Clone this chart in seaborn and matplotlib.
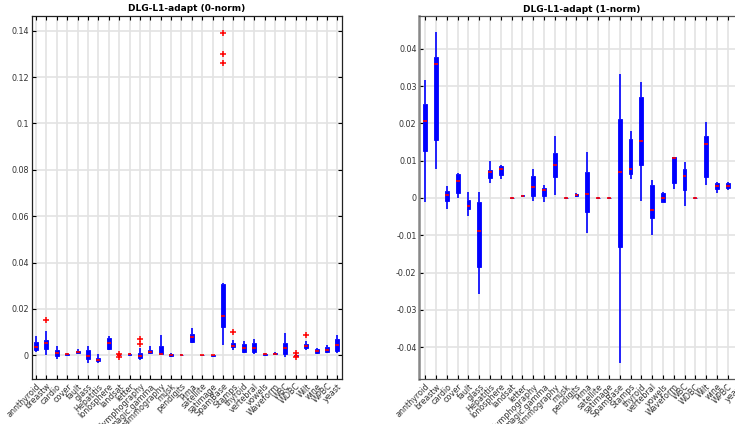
import numpy as np
import pandas as pd
import matplotlib
matplotlib.use('Agg')
import matplotlib.pyplot as plt
import seaborn as sns

datasets = ['annthyroid', 'breastw', 'cardio', 'cover', 'fault', 'glass', 'Hepatitis',
            'Ionosphere', 'landsat', 'letter', 'Lymphography', 'magic.gamma', 'mammography',
            'musk', 'pendigits', 'Pima', 'satellite', 'satimage', 'SpamBase', 'Stamps',
            'thyroid', 'vertebral', 'vowels', 'Waveform', 'WBC', 'WDBC', 'Wilt', 'wine',
            'WPBC', 'yeast']

# 0-norm: lower whisker, q1, median, q3, upper whisker
lo0 = [0.0016, 0.0002, -0.0014, 0.0000, 0.0010, -0.0031, -0.0034, 0.0021, -0.0002, 0.0000,
       -0.0019, 0.0005, 0.0002, -0.0003, 0.0000, 0.0055, 0.0001, -0.0002, 0.0045, 0.0025,
       0.0012, 0.0005, 0.0000, 0.0002, -0.0006, -0.0004, 0.0022, 0.0006, 0.0010, 0.0012]
q1_0 = [0.0021, 0.0027, -0.0001, 0.0003, 0.0012, -0.0016, -0.0025, 0.0027, 0.0000, 0.0003,
        -0.0010, 0.0009, 0.0005, -0.0001, 0.0001, 0.0058, 0.00015, -0.0001, 0.0122, 0.0035,
        0.0016, 0.0016, 0.0001, 0.0004, 0.0005, -0.0002, 0.0030, 0.0009, 0.0015, 0.0017]
med0 = [0.0036, 0.0053, 0.0011, 0.0005, 0.0016, -0.0004, -0.0021, 0.0052, 0.0001, 0.0005,
        -0.0002, 0.0016, 0.0006, 0.0002, 0.0002, 0.0080, 0.0002, 0.0001, 0.0169, 0.0042,
        0.0032, 0.0032, 0.0004, 0.0006, 0.0032, -0.0001, 0.0040, 0.0019, 0.0025, 0.0043]
q3_0 = [0.0057, 0.0067, 0.0024, 0.0008, 0.0019, 0.0021, -0.0011, 0.0074, 0.0002, 0.0007,
        0.0012, 0.0024, 0.0040, 0.0004, 0.0003, 0.0093, 0.00025, 0.0002, 0.0308, 0.0053,
        0.0048, 0.0053, 0.0007, 0.0010, 0.0053, 0.0002, 0.0050, 0.0027, 0.0034, 0.0071]
hi0 = [0.0084, 0.0107, 0.0041, 0.0010, 0.0026, 0.0041, 0.0005, 0.0084, 0.0004, 0.0010,
       0.0030, 0.0040, 0.0089, 0.0006, 0.0004, 0.0117, 0.0003, 0.0003, 0.0314, 0.0066,
       0.0062, 0.0071, 0.0010, 0.0014, 0.0098, 0.0004, 0.0060, 0.0032, 0.0044, 0.0087]
out0 = {'breastw': [0.0152], 'landsat': [0.0007, -0.0005], 'Lymphography': [0.0070, 0.0050],
        'musk': [0.0010, -0.0006], 'SpamBase': [0.1391, 0.1301, 0.1259], 'Stamps': [0.0100],
        'WDBC': [0.0009, -0.0009], 'Wilt': [0.0088]}

# 1-norm
lo1 = [-0.0010, 0.0079, -0.0030, 0.0000, -0.0047, -0.0258, 0.0041, 0.0052, -0.0002, 0.0004,
       -0.0009, -0.0010, 0.0008, -0.0002, 0.0002, -0.0093, -0.0002, -0.0002, -0.0441, 0.0052,
       -0.0007, -0.0099, -0.0012, 0.0023, -0.0022, -0.0002, 0.0035, 0.0013, 0.0021, 0.0015]
q1_1 = [0.0125, 0.0155, -0.0008, 0.0014, -0.0029, -0.0184, 0.0054, 0.0061, -0.0001, 0.0005,
        0.0005, 0.0005, 0.0055, -0.0001, 0.0006, -0.0037, -0.0001, -0.0001, -0.0132, 0.0065,
        0.0089, -0.0054, -0.0010, 0.0041, 0.0021, -0.0001, 0.0057, 0.0025, 0.0027, 0.0025]
med1 = [0.0207, 0.0359, 0.0008, 0.0046, -0.0021, -0.0088, 0.0069, 0.0079, 0.0000, 0.0006,
        0.0029, 0.0021, 0.0088, 0.0000, 0.0009, 0.0012, 0.0000, 0.0000, 0.0071, 0.0079,
        0.0154, -0.0031, -0.0001, 0.0106, 0.0058, 0.0000, 0.0146, 0.0033, 0.0033, 0.0032]
q3_1 = [0.0253, 0.0379, 0.0020, 0.0064, -0.0005, -0.0012, 0.0075, 0.0086, 0.0001, 0.0007,
        0.0059, 0.0026, 0.0121, 0.0001, 0.0012, 0.0070, 0.0001, 0.0001, 0.0213, 0.0157,
        0.0272, 0.0034, 0.0013, 0.0109, 0.0078, 0.0001, 0.0167, 0.0040, 0.0039, 0.0040]
hi1 = [0.0317, 0.0444, 0.0032, 0.0066, 0.0017, 0.0016, 0.0099, 0.0088, 0.0002, 0.0008,
       0.0079, 0.0035, 0.0167, 0.0002, 0.0014, 0.0123, 0.0002, 0.0002, 0.0333, 0.0180,
       0.0312, 0.0048, 0.0015, 0.0111, 0.0096, 0.0002, 0.0204, 0.0044, 0.0044, 0.0048]
out1 = {}


def long_table(lo, q1, med, q3, hi, outliers, k=10):
    # repeat the quartiles so the boxplot statistics land on the read values
    rows = []
    for i, name in enumerate(datasets):
        vals = [lo[i]] + [q1[i]] * k + [med[i]] * k + [q3[i]] * k + [hi[i]]
        vals += outliers.get(name, [])
        rows += [(name, v) for v in vals]
    return pd.DataFrame(rows, columns=['dataset', 'value'])


df0 = long_table(lo0, q1_0, med0, q3_0, hi0, out0)
df1 = long_table(lo1, q1_1, med1, q3_1, hi1, out1)

fig = plt.figure(figsize=(7.35, 4.24), dpi=100)
ax0 = fig.add_axes([0.0431, 0.1061, 0.4218, 0.857])
ax1 = fig.add_axes([0.5705, 0.1054, 0.4424, 0.857])

box_kw = dict(x='dataset', y='value', order=datasets, color='blue', linecolor='blue',
              saturation=1, whis=1.5, showcaps=False, linewidth=0.6,
              whiskerprops=dict(color='blue', linewidth=1.2),
              medianprops=dict(color='red', linewidth=1.2),
              flierprops=dict(marker='+', markeredgecolor='red', markersize=5,
                              markeredgewidth=1.1))

sns.boxplot(data=df0, ax=ax0, width=0.38, **box_kw)
sns.boxplot(data=df1, ax=ax1, width=0.36, **box_kw)

for ax, title, xlim, ylim, yt in [
        (ax0, 'DLG-L1-adapt (0-norm)', (-0.41, 29.41), (-0.0102, 0.1465),
         np.arange(0, 0.141, 0.02)),
        (ax1, 'DLG-L1-adapt (1-norm)', (-0.55, 29.55), (-0.0486, 0.0488),
         np.arange(-0.04, 0.041, 0.01))]:
    ax.set_xlim(*xlim)
    ax.set_ylim(*ylim)
    ax.set_yticks(yt)
    ax.set_yticklabels([f'{v:g}' if abs(v) > 1e-12 else '0' for v in yt])
    ax.set_xlabel('')
    ax.set_ylabel('')
    ax.set_title(title, fontsize=6.5, fontweight='bold', pad=3)
    ax.grid(True, color='#e3e3e3', linewidth=1.2)
    ax.set_axisbelow(True)
    ax.tick_params(direction='in', top=True, right=True, length=3, width=0.8,
                   labelsize=5.8, labelcolor='#333333', pad=2)
    plt.setp(ax.get_xticklabels(), rotation=45, ha='right', rotation_mode='anchor')

for s in ax0.spines.values():
    s.set_color('#222222')
    s.set_linewidth(0.9)
for s in ax1.spines.values():
    s.set_color('#555555')
    s.set_linewidth(0.9)
ax1.spines['left'].set_color('#888888')
ax1.spines['left'].set_linewidth(1.8)

fig.savefig('out.png', dpi=100)
